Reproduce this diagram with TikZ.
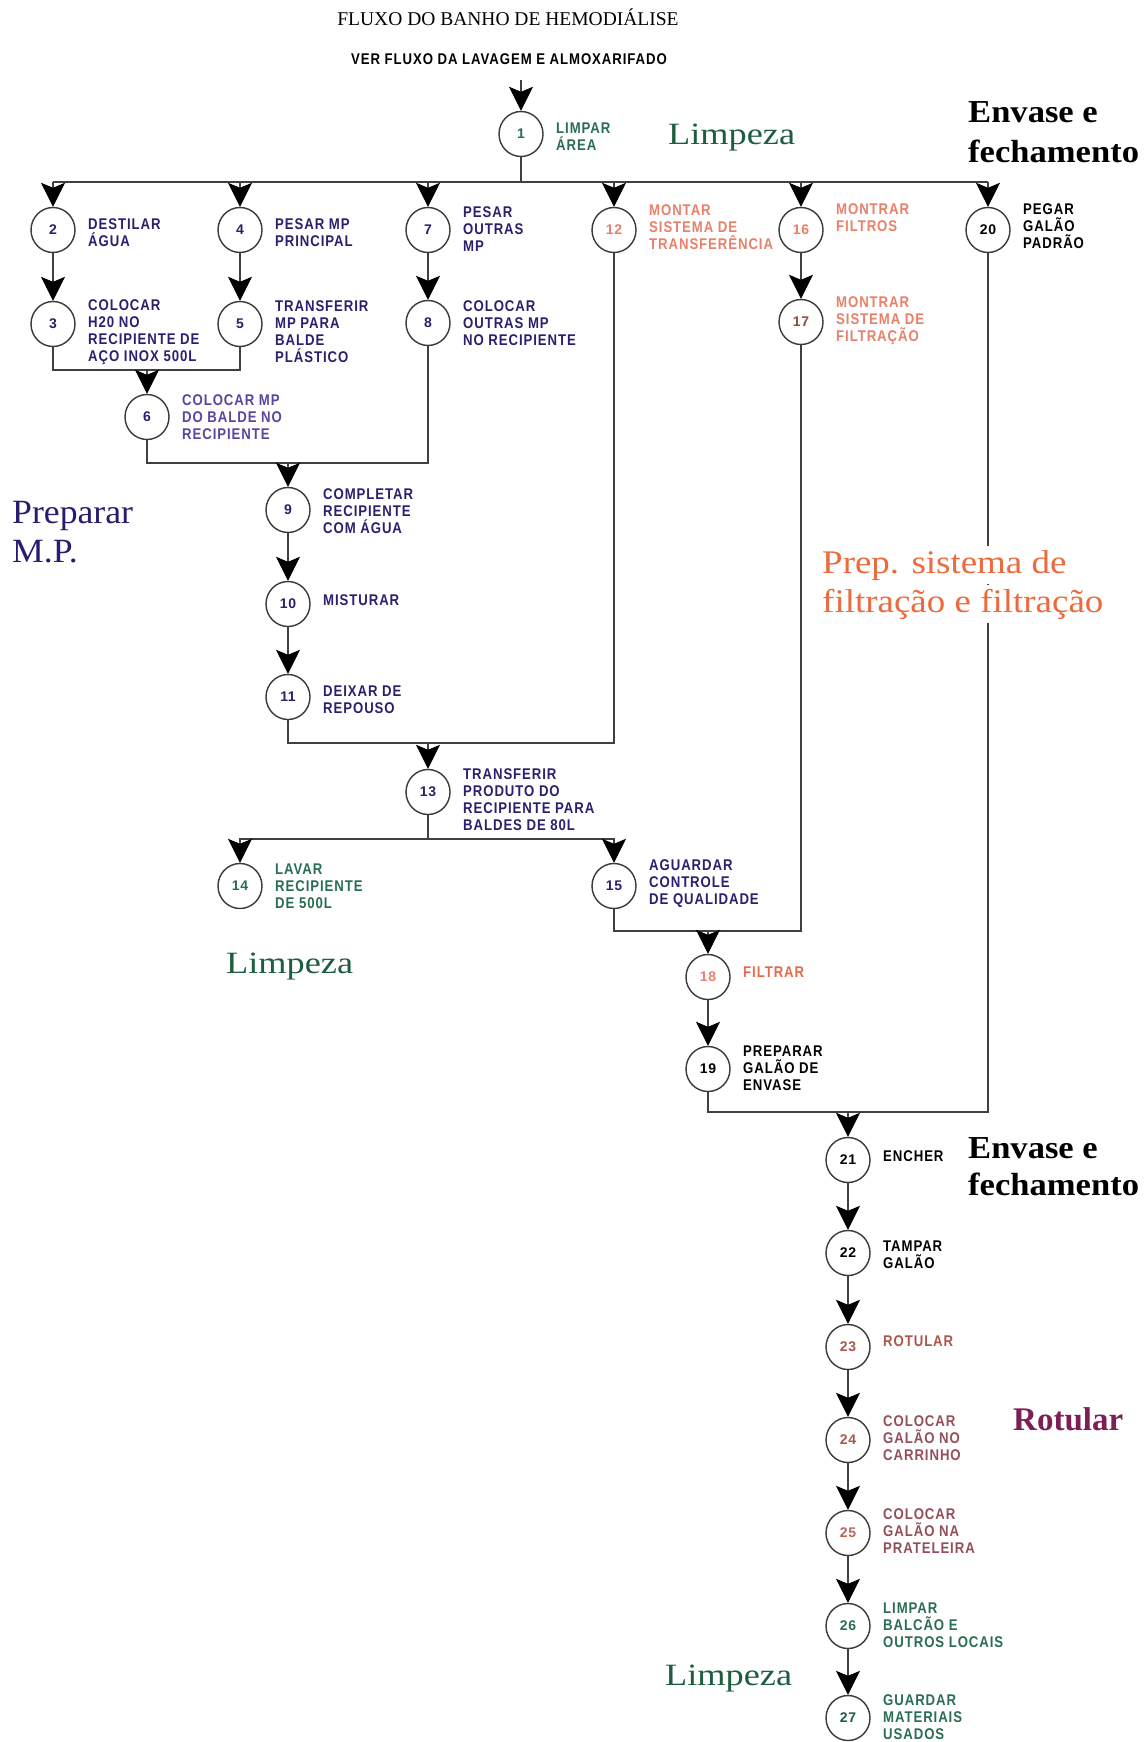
\documentclass[tikz,border=0pt]{standalone}
\usepackage{fontspec}
\usepackage{graphicx}
\usetikzlibrary{arrows.meta,shapes.geometric}
\setmainfont{Liberation Serif}
\newfontfamily\lblfamily{Liberation Sans}[FakeStretch=0.85,LetterSpace=6]
\newfontfamily\numfamily{Liberation Sans}[LetterSpace=4]
\newcommand\lblfnt{\lblfamily\bfseries\fontsize{15.5}{17}\selectfont}
\newcommand\numfnt{\numfamily\bfseries\fontsize{14}{15}\selectfont}
\newcommand\bigfnt{\fontsize{31}{37}\selectfont}
\newcommand\stretchtxt[2]{\scalebox{#1}[1]{#2}}
\definecolor{cNavy}{HTML}{2E1F6E}
\definecolor{cPurple}{HTML}{5B45A0}
\definecolor{cGreen}{HTML}{2A6E52}
\definecolor{cSalmon}{HTML}{E8806A}
\definecolor{cOrange}{HTML}{E8684A}
\definecolor{cBrown}{HTML}{A8584C}
\definecolor{cMauve}{HTML}{94505A}
\definecolor{cDkGreen}{HTML}{1E5E40}
\definecolor{cIndigo}{HTML}{2B1B70}
\definecolor{cOrangeBig}{HTML}{EC6A3C}
\definecolor{cMagenta}{HTML}{7D1F55}
\definecolor{cLine}{HTML}{404040}
\definecolor{cCirc}{HTML}{3A3A3A}
\tikzset{
  stp/.style={ellipse, draw=cCirc, line width=1.4pt, minimum width=44pt, minimum height=45pt, inner sep=0pt, font=\numfnt},
  lbl/.style={anchor=west, align=left, inner sep=0pt, font=\lblfnt},
  con/.style={draw=cLine, line width=1.2pt},
  arr/.style={con, -{Stealth[length=24pt,width=24pt,inset=5pt,black]}},
  big/.style={anchor=base west, inner xsep=2pt, inner ysep=4pt, fill=white},
}
\begin{document}
\begin{tikzpicture}[x=1pt,y=-1pt]
\fill[white] (0,0) rectangle (1145,1742);
\useasboundingbox (0,0) rectangle (1145,1742);

% titles
\node[anchor=base, inner sep=0pt, font=\fontsize{19.5}{22}\selectfont] (title) at (508,26) {FLUXO DO BANHO DE HEMODIÁLISE};
\node[anchor=base, inner sep=0pt, font=\lblfnt] (sub) at (509,65) {VER FLUXO DA LAVAGEM E ALMOXARIFADO};

% step circles
\node[stp, text=cGreen] (n1) at (521,134) {1};
\node[stp, text=cNavy] (n2) at (53,230) {2};
\node[stp, text=cNavy] (n4) at (240,230) {4};
\node[stp, text=cNavy] (n7) at (428,230) {7};
\node[stp, text=cSalmon] (n12) at (614,230) {12};
\node[stp, text=cSalmon] (n16) at (801,230) {16};
\node[stp, text=black] (n20) at (988,230) {20};
\node[stp, text=cNavy] (n3) at (53,324) {3};
\node[stp, text=cNavy] (n5) at (240,324) {5};
\node[stp, text=cNavy] (n8) at (428,323) {8};
\node[stp, text=cSalmon!60!black] (n17) at (801,322) {17};
\node[stp, text=cNavy] (n6) at (147,417) {6};
\node[stp, text=cNavy] (n9) at (288,510) {9};
\node[stp, text=cNavy] (n10) at (288,604) {10};
\node[stp, text=cNavy] (n11) at (288,697) {11};
\node[stp, text=cNavy] (n13) at (428,792) {13};
\node[stp, text=cGreen] (n14) at (240,886) {14};
\node[stp, text=cNavy] (n15) at (614,886) {15};
\node[stp, text=cSalmon] (n18) at (708,977) {18};
\node[stp, text=black] (n19) at (708,1069) {19};
\node[stp, text=black] (n21) at (848,1160) {21};
\node[stp, text=black] (n22) at (848,1253) {22};
\node[stp, text=cBrown] (n23) at (848,1347) {23};
\node[stp, text=cBrown] (n24) at (848,1440) {24};
\node[stp, text=cSalmon!80!black] (n25) at (848,1533) {25};
\node[stp, text=cGreen] (n26) at (848,1626) {26};
\node[stp, text=cDkGreen] (n27) at (848,1718) {27};

% step labels
\node[lbl, text=cGreen] (t1) at (556,137) {LIMPAR\\ÁREA};
\node[lbl, text=cNavy] (t2) at (88,233) {DESTILAR\\ÁGUA};
\node[lbl, text=cNavy] (t4) at (275,233) {PESAR MP\\PRINCIPAL};
\node[lbl, text=cNavy] (t7) at (463,229) {PESAR\\OUTRAS\\MP};
\node[lbl, text=cSalmon] (t12) at (649,227) {MONTAR\\SISTEMA DE\\TRANSFERÊNCIA};
\node[lbl, text=cSalmon] (t16) at (836,218) {MONTRAR\\FILTROS};
\node[lbl, text=black] (t20) at (1023,226) {PEGAR\\GALÃO\\PADRÃO};
\node[lbl, text=cNavy] (t3) at (88,332) {COLOCAR\\H20 NO\\RECIPIENTE DE\\AÇO INOX 500L};
\node[lbl, text=cNavy] (t5) at (275,332) {TRANSFERIR\\MP PARA\\BALDE\\PLÁSTICO};
\node[lbl, text=cNavy] (t8) at (463,323) {COLOCAR\\OUTRAS MP\\NO RECIPIENTE};
\node[lbl, text=cSalmon] (t17) at (836,321) {MONTRAR\\SISTEMA DE\\FILTRAÇÃO};
\node[lbl, text=cPurple] (t6) at (182,417) {COLOCAR MP\\DO BALDE NO\\RECIPIENTE};
\node[lbl, text=cNavy] (t9) at (323,511) {COMPLETAR\\RECIPIENTE\\COM ÁGUA};
\node[lbl, text=cNavy] (t10) at (323,600) {MISTURAR};
\node[lbl, text=cNavy] (t11) at (323,700) {DEIXAR DE\\REPOUSO};
\node[lbl, text=cNavy] (t13) at (463,800) {TRANSFERIR\\PRODUTO DO\\RECIPIENTE PARA\\BALDES DE 80L};
\node[lbl, text=cGreen] (t14) at (275,886) {LAVAR\\RECIPIENTE\\DE 500L};
\node[lbl, text=cNavy] (t15) at (649,884) {AGUARDAR\\CONTROLE\\DE QUALIDADE};
\node[lbl, text=cOrange] (t18) at (743,972) {FILTRAR};
\node[lbl, text=black] (t19) at (743,1068) {PREPARAR\\GALÃO DE\\ENVASE};
\node[lbl, text=black] (t21) at (883,1156) {ENCHER};
\node[lbl, text=black] (t22) at (883,1255) {TAMPAR\\GALÃO};
\node[lbl, text=cBrown] (t23) at (883,1341) {ROTULAR};
\node[lbl, text=cMauve] (t24) at (883,1438) {COLOCAR\\GALÃO NO\\CARRINHO};
\node[lbl, text=cMauve] (t25) at (883,1531) {COLOCAR\\GALÃO NA\\PRATELEIRA};
\node[lbl, text=cGreen] (t26) at (883,1625) {LIMPAR\\BALCÃO E\\OUTROS LOCAIS};
\node[lbl, text=cGreen] (t27) at (883,1717) {GUARDAR\\MATERIAIS\\USADOS};

% junction points
\coordinate (top) at (521,80);
\coordinate (bus) at (521,182);
\coordinate (busL) at (53,182);
\coordinate (busR) at (988,182);
\coordinate (j35) at (147,370);
\coordinate (j68) at (288,463);
\coordinate (j1112) at (428,743);
\coordinate (s13) at (428,839);
\coordinate (j1517) at (708,931);
\coordinate (j1920) at (848,1112);

% connectors
\draw[arr] (top) -- (n1);
\draw[con] (n1) -- (bus);
\draw[con] (busL) -- (busR);
\foreach \n in {n2,n4,n7,n12,n16,n20} { \draw[arr] (bus -| \n) -- (\n); }
\draw[arr] (n2) -- (n3);
\draw[arr] (n4) -- (n5);
\draw[arr] (n7) -- (n8);
\draw[arr] (n16) -- (n17);
\draw[con] (n3) |- (j35) -| (n5);
\draw[arr] (j35) -- (n6);
\draw[con] (n6) |- (j68) -| (n8);
\draw[arr] (j68) -- (n9);
\draw[arr] (n9) -- (n10);
\draw[arr] (n10) -- (n11);
\draw[con] (n11) |- (j1112) -| (n12);
\draw[arr] (j1112) -- (n13);
\draw[con] (n13) -- (s13);
\draw[arr] (s13) -| (n14);
\draw[arr] (s13) -| (n15);
\draw[con] (n15) |- (j1517) -| (n17);
\draw[arr] (j1517) -- (n18);
\draw[arr] (n18) -- (n19);
\draw[con] (n19) |- (j1920) -| (n20);
\draw[arr] (j1920) -- (n21);
\draw[arr] (n21) -- (n22);
\draw[arr] (n22) -- (n23);
\draw[arr] (n23) -- (n24);
\draw[arr] (n24) -- (n25);
\draw[arr] (n25) -- (n26);
\draw[arr] (n26) -- (n27);

% area labels
\node[big, text=cDkGreen] (limpA) at (666,145) {\bigfnt\stretchtxt{1.17}{Limpeza}};
\node[big, text=black] (envA1) at (966,123) {\fontsize{32}{38}\selectfont\bfseries\stretchtxt{1.08}{Envase e}};
\node[big, text=black] (envA2) at (966,162) {\fontsize{32}{38}\selectfont\bfseries\stretchtxt{1.08}{fechamento}};
\node[big, text=cIndigo] (prep1) at (10,523) {\fontsize{34}{40}\selectfont\stretchtxt{1.05}{Preparar}};
\node[big, text=cIndigo] (prep2) at (10,562) {\fontsize{34}{40}\selectfont\stretchtxt{1.05}{M.P.}};
\node[big, text=cOrangeBig] (filt1) at (820,573) {\fontsize{33}{39}\selectfont\stretchtxt{1.12}{Prep. sistema de}};
\node[big, text=cOrangeBig] (filt2) at (820,612) {\fontsize{33}{39}\selectfont\stretchtxt{1.12}{filtração e filtração}};
\node[big, text=cDkGreen] (limpB) at (224,973) {\bigfnt\stretchtxt{1.17}{Limpeza}};
\node[big, text=black] (envB1) at (966,1158) {\fontsize{32}{38}\selectfont\bfseries\stretchtxt{1.08}{Envase e}};
\node[big, text=black] (envB2) at (966,1195) {\fontsize{32}{38}\selectfont\bfseries\stretchtxt{1.08}{fechamento}};
\node[big, text=cMagenta] (rot) at (1011,1430) {\fontsize{33}{39}\selectfont\bfseries Rotular};
\node[big, text=cDkGreen] (limpC) at (663,1685) {\bigfnt\stretchtxt{1.17}{Limpeza}};
\end{tikzpicture}
\end{document}
